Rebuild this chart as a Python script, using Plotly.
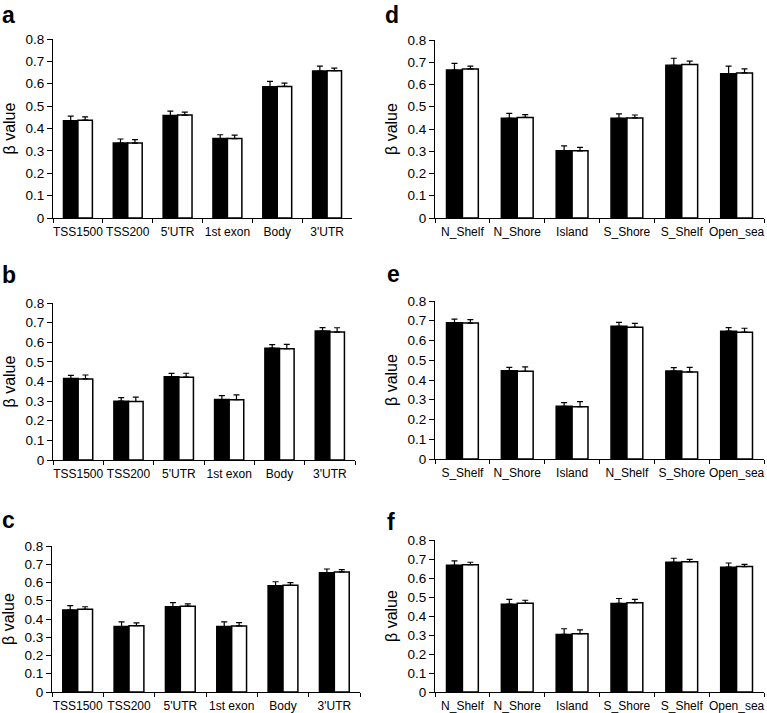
import plotly.graph_objects as go

W, H = 767, 713

# ---------------- data ----------------
region_cats = ["TSS1500", "TSS200", "5'UTR", "1st exon", "Body", "3'UTR"]
island_cats_df = ["N_Shelf", "N_Shore", "Island", "S_Shore", "S_Shelf", "Open_sea"]
island_cats_e = ["S_Shelf", "N_Shore", "Island", "N_Shelf", "S_Shore", "Open_sea"]

a_black = [0.435, 0.335, 0.458, 0.355, 0.587, 0.657]
a_black_err = [0.020, 0.018, 0.020, 0.017, 0.024, 0.022]
a_white = [0.437, 0.335, 0.460, 0.355, 0.588, 0.658]
a_white_err = [0.015, 0.015, 0.013, 0.015, 0.015, 0.012]

b_black = [0.415, 0.300, 0.424, 0.308, 0.570, 0.657]
b_black_err = [0.016, 0.018, 0.017, 0.020, 0.018, 0.018]
b_white = [0.413, 0.298, 0.422, 0.307, 0.567, 0.652]
b_white_err = [0.020, 0.022, 0.020, 0.025, 0.022, 0.022]

c_black = [0.449, 0.359, 0.467, 0.359, 0.582, 0.654]
c_black_err = [0.024, 0.025, 0.023, 0.025, 0.022, 0.020]
c_white = [0.453, 0.363, 0.470, 0.362, 0.585, 0.658]
c_white_err = [0.014, 0.016, 0.013, 0.018, 0.014, 0.012]

d_black = [0.665, 0.448, 0.302, 0.448, 0.686, 0.648]
d_black_err = [0.030, 0.022, 0.022, 0.020, 0.032, 0.035]
d_white = [0.670, 0.452, 0.302, 0.450, 0.690, 0.652]
d_white_err = [0.013, 0.013, 0.015, 0.013, 0.015, 0.018]

e_black = [0.690, 0.447, 0.267, 0.672, 0.445, 0.647]
e_black_err = [0.018, 0.017, 0.018, 0.020, 0.018, 0.018]
e_white = [0.688, 0.444, 0.265, 0.667, 0.441, 0.642]
e_white_err = [0.018, 0.022, 0.025, 0.020, 0.023, 0.020]

f_black = [0.667, 0.462, 0.303, 0.466, 0.683, 0.657]
f_black_err = [0.023, 0.026, 0.030, 0.026, 0.021, 0.022]
f_white = [0.670, 0.467, 0.307, 0.470, 0.686, 0.660]
f_white_err = [0.013, 0.016, 0.020, 0.017, 0.012, 0.012]

y_ticks = [0, 0.1, 0.2, 0.3, 0.4, 0.5, 0.6, 0.7, 0.8]
panel_letters = ["a", "b", "c", "d", "e", "f"]

panels = [
    (region_cats, a_black, a_black_err, a_white, a_white_err),
    (region_cats, b_black, b_black_err, b_white, b_white_err),
    (region_cats, c_black, c_black_err, c_white, c_white_err),
    (island_cats_df, d_black, d_black_err, d_white, d_white_err),
    (island_cats_e, e_black, e_black_err, e_white, e_white_err),
    (island_cats_df, f_black, f_black_err, f_white, f_white_err),
]

# pixel boxes of plot areas: (x0, x1, ytop, ybottom)
boxes = [
    (53, 352, 39, 218),
    (53, 355, 303, 460),
    (52, 360, 546, 692),
    (435, 764, 40, 218),
    (435, 764, 301, 459),
    (435, 764, 540, 692),
]
# panel letter positions (x left, y baseline) in px
letter_pos = [(0, 23), (0, 283), (0, 528), (383, 23), (385, 282), (385, 530)]

FONT = "Liberation Sans, Arial, Helvetica, sans-serif"

fig = go.Figure()
layout = dict(
    width=W, height=H,
    margin=dict(l=0, r=0, t=0, b=0, pad=0),
    paper_bgcolor="white", plot_bgcolor="white",
    showlegend=False,
    barmode="group", bargap=0.42, bargroupgap=0.0,
    font=dict(family=FONT, color="black"),
    template="none",
)
annotations = []

for i, (cats, kb, kbe, kw, kwe) in enumerate(panels):
    n = i + 1
    xa = "x" if n == 1 else f"x{n}"
    ya = "y" if n == 1 else f"y{n}"
    fig.add_trace(go.Bar(
        x=cats, y=kb, xaxis=xa, yaxis=ya,
        marker=dict(color="black", line=dict(color="black", width=1.5)),
        error_y=dict(type="data", array=kbe, arrayminus=[0] * len(kbe), symmetric=False,
                     color="black", thickness=1.2, width=3),
        offsetgroup="1",
    ))
    fig.add_trace(go.Bar(
        x=cats, y=kw, xaxis=xa, yaxis=ya,
        marker=dict(color="white", line=dict(color="black", width=1.5)),
        error_y=dict(type="data", array=kwe, arrayminus=[0] * len(kwe), symmetric=False,
                     color="black", thickness=1.2, width=3),
        offsetgroup="2",
    ))
    x0, x1, yt, yb = boxes[i]
    layout["xaxis" if n == 1 else f"xaxis{n}"] = dict(
        domain=[x0 / W, x1 / W], anchor=ya,
        type="category", range=[-0.5, len(cats) - 0.5],
        showline=True, linecolor="black", linewidth=1,
        ticks="outside", tickson="boundaries", ticklen=4, tickwidth=1, tickcolor="black",
        showgrid=False, zeroline=False, tickangle=0, ticklabelstandoff=3,
        tickfont=dict(family=FONT, size=12, color="black"),
        automargin=False, fixedrange=True,
    )
    layout["yaxis" if n == 1 else f"yaxis{n}"] = dict(
        domain=[1 - yb / H, 1 - yt / H], anchor=xa,
        range=[0, 0.8], tickvals=y_ticks,
        ticktext=[("0" if v == 0 else f"{v:.1f}") for v in y_ticks],
        showline=True, linecolor="black", linewidth=1,
        ticks="outside", ticklen=5, tickwidth=1, tickcolor="black",
        showgrid=False, zeroline=False,
        tickfont=dict(family=FONT, size=13.5, color="black"),
        automargin=False, fixedrange=True,
    )
    # y-axis title
    annotations.append(dict(
        text="β value", textangle=-90, xref="paper", yref="paper",
        x=(x0 - 44) / W, y=1 - ((yt + yb) / 2) / H, xanchor="center", yanchor="middle",
        showarrow=False, font=dict(family=FONT, size=16, color="black"),
    ))
    lx, lby = letter_pos[i]
    annotations.append(dict(
        text=f"<b>{panel_letters[i]}</b>", xref="paper", yref="paper",
        x=lx / W, y=1 - (lby - 8) / H, xanchor="left", yanchor="middle",
        showarrow=False, font=dict(family=FONT, size=23, color="black"),
    ))

layout["annotations"] = annotations
fig.update_layout(**layout)
fig.write_html("out.html", config={"displayModeBar": False},
               post_script="document.body.style.margin='0';document.body.style.padding='0';")
